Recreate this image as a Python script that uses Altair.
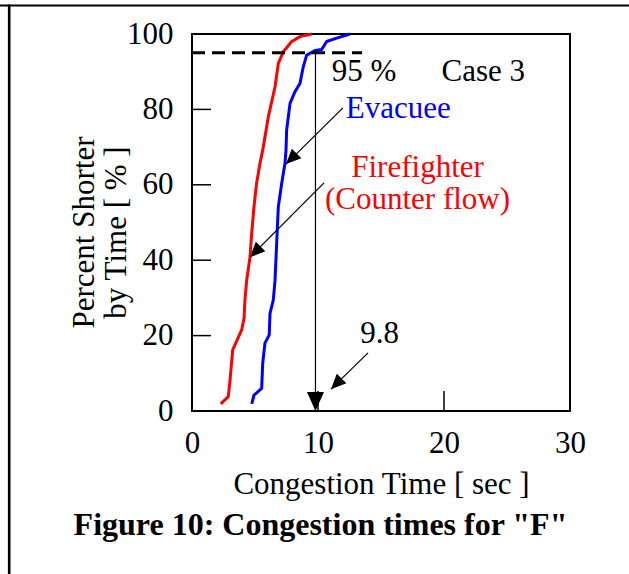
import altair as alt
import pandas as pd

# ---- data ----
ff_time = [2.28, 2.88, 3.02, 3.23, 3.94, 4.13, 4.20, 4.34, 4.60, 4.74, 4.92, 5.13, 5.40, 5.61,
           5.66, 6.06, 6.59, 6.85, 7.25, 7.91, 8.57, 9.50]
ff_pct = [1.9, 3.8, 8.2, 16.2, 21.5, 24.6, 29.4, 34.7, 40.8, 47.2, 54.2, 60.5, 65.8, 69.2,
          70.1, 78.1, 86.0, 92.2, 95.3, 98.0, 99.3, 100.0]

ev_time = [4.74, 4.92, 5.53, 5.61, 5.79, 6.13, 6.19, 6.45, 6.59, 6.67, 6.85, 7.12, 7.38, 7.46,
           7.51, 7.78, 8.17, 8.57, 8.83, 9.10, 9.76, 10.29, 10.69, 11.48, 12.54]
ev_pct = [1.9, 4.2, 6.0, 12.6, 18.0, 20.2, 25.9, 29.4, 34.7, 40.8, 54.2, 60.4, 65.7, 69.2,
          74.5, 81.6, 84.7, 86.9, 91.3, 94.4, 95.6, 95.9, 98.0, 98.9, 100.0]

x_ticks = [0, 10, 20, 30]
y_ticks = [0, 20, 40, 60, 80, 100]
x_inner_ticks = [10, 20]
y_inner_ticks = [20, 40, 60, 80]

pct_level = 95
pct_time = 9.8
dash_end = 13.5

FONT = "Liberation Serif"
FS = 31
RED = "#ff0000"
BLUE = "#0000ff"

ff = pd.DataFrame({"t": ff_time, "p": ff_pct, "i": range(len(ff_time))})
ev = pd.DataFrame({"t": ev_time, "p": ev_pct, "i": range(len(ev_time))})

xs = alt.Scale(domain=[0, 30], nice=False, zero=False)
ys = alt.Scale(domain=[0, 100], nice=False, zero=False)

x_axis = alt.Axis(values=x_ticks, grid=False, domain=False, ticks=False, labelFont=FONT,
                  labelFontSize=FS, labelColor="black", labelPadding=17, labelFlush=False,
                  title="Congestion Time [ sec ]", titleFont=FONT, titleFontSize=FS,
                  titleFontWeight="normal", titleColor="black", titleY=82,
                  titleBaseline="alphabetic")
y_axis = alt.Axis(values=y_ticks, grid=False, domain=False, ticks=False, labelFont=FONT,
                  labelFontSize=FS, labelColor="black", labelPadding=19, labelFlush=False,
                  labelBaseline="middle",
                  title=["Percent Shorter", "by Time [ % ]"], titleFont=FONT, titleFontSize=FS,
                  titleFontWeight="normal", titleColor="black", titleAngle=270,
                  titleX=-108, titleY=198, titleAlign="center", titleBaseline="middle",
                  titleLineHeight=32)

base_ff = alt.Chart(ff).mark_line(color=RED, strokeWidth=3, strokeJoin="round").encode(
    x=alt.X("t:Q", scale=xs, axis=x_axis),
    y=alt.Y("p:Q", scale=ys, axis=y_axis),
    order="i:Q",
)
ev_line = alt.Chart(ev).mark_line(color=BLUE, strokeWidth=3, strokeJoin="round").encode(
    x=alt.X("t:Q", scale=xs), y=alt.Y("p:Q", scale=ys), order="i:Q")

# inward ticks
xt = alt.Chart(pd.DataFrame({"t": x_inner_ticks})).mark_rule(color="black", strokeWidth=1.5).encode(
    x=alt.X("t:Q", scale=xs), y=alt.value(357), y2=alt.value(377))
yt = alt.Chart(pd.DataFrame({"p": y_inner_ticks})).mark_rule(color="black", strokeWidth=1.5).encode(
    y=alt.Y("p:Q", scale=ys), x=alt.value(0), x2=alt.value(19))

# 95 % dashed line
dash = alt.Chart(pd.DataFrame({"t": [0], "t2": [dash_end], "p": [pct_level]})).mark_rule(
    color="black", strokeWidth=3, strokeDash=[13, 7]).encode(
    x=alt.X("t:Q", scale=xs), x2="t2:Q", y=alt.Y("p:Q", scale=ys))

# arrows: start (t0,p0) -> tip (t1,p1)
arrows = pd.DataFrame({
    "t0": [pct_time, 11.98, 10.48, 13.97],
    "p0": [pct_level, 80.4, 60.5, 15.4],
    "t1": [pct_time, 7.46, 4.60, 11.03],
    "p1": [0, 65.5, 40.8, 5.8],
})
arrow_lines = alt.Chart(arrows).mark_rule(color="black", strokeWidth=1.2).encode(
    x=alt.X("t0:Q", scale=xs), y=alt.Y("p0:Q", scale=ys), x2="t1:Q", y2="p1:Q")

HEAD = "M0,0L-0.45,1L0.45,1Z"
head_v = alt.Chart(arrows.iloc[[0]]).mark_point(shape=HEAD, filled=True, color="black",
                                                opacity=1, size=1444, angle=180).encode(
    x=alt.X("t1:Q", scale=xs), y=alt.Y("p1:Q", scale=ys))
head_d = alt.Chart(arrows.iloc[1:]).mark_point(shape=HEAD, filled=True, color="black",
                                               opacity=1, size=900, angle=225).encode(
    x=alt.X("t1:Q", scale=xs), y=alt.Y("p1:Q", scale=ys))

def label(txt, t, p, color="black", align="left"):
    return alt.Chart(pd.DataFrame({"t": [t], "p": [p], "s": [txt]})).mark_text(
        font=FONT, fontSize=FS, color=color, align=align, baseline="alphabetic").encode(
        x=alt.X("t:Q", scale=xs), y=alt.Y("p:Q", scale=ys), text="s:N")

texts = [
    label("95 %", 11.1, 87.5),
    label("Case 3", 19.8, 87.5),
    label("Evacuee", 12.2, 77.7, BLUE),
    label("Firefighter", 17.9, 62.1, RED, "center"),
    label("(Counter flow)", 17.9, 53.6, RED, "center"),
    label("9.8", 14.9, 18.0, "black", "center"),
]

title = alt.Chart(pd.DataFrame({"s": ['Figure 10: Congestion times for "F"']})).mark_text(
    font=FONT, fontSize=32, fontWeight="bold", color="black", align="center",
    baseline="alphabetic").encode(x=alt.value(128.5), y=alt.value(501), text="s:N")

# outer table-cell border
frame_top = alt.Chart(pd.DataFrame({"a": [0]})).mark_rule(color="black", strokeWidth=2.2).encode(
    x=alt.value(-192), x2=alt.value(437), y=alt.value(-28.5))
frame_left = alt.Chart(pd.DataFrame({"a": [0]})).mark_rule(color="black", strokeWidth=2.6).encode(
    x=alt.value(-182.8), y=alt.value(-29.5), y2=alt.value(540))

chart = alt.layer(base_ff, ev_line, xt, yt, dash, arrow_lines, head_v, head_d, *texts, title,
                  frame_top, frame_left).properties(
    width=378, height=377,
    autosize=alt.AutoSizeParams(type="none"),
    padding={"left": 192, "top": 34, "right": 59, "bottom": 163},
    background="white",
).configure_view(stroke="black", strokeWidth=2)

chart.save("out.html", embed_options={"renderer": "svg", "actions": False})
